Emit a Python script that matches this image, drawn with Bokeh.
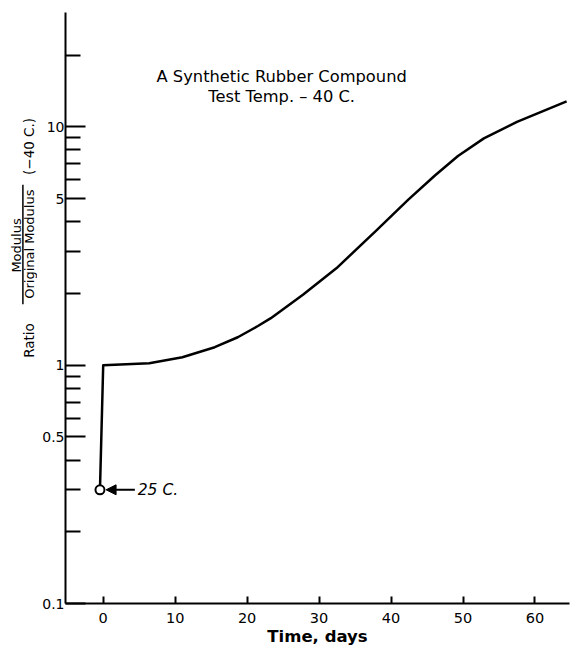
import math
from bokeh.plotting import figure
from bokeh.layouts import row
from bokeh.models import FixedTicker, Label, Arrow, NormalHead, Range1d
from bokeh.embed import file_html
from bokeh.resources import INLINE

# ---- data ----
days = [-0.45, 0, 6.4, 11.0, 15.5, 18.7, 21.5, 23.3, 27.8, 32.4, 37.9, 42.4, 46.1, 49.3,
        52.9, 57.5, 64.4]
ratio = [0.30, 1.00, 1.02, 1.08, 1.19, 1.31, 1.46, 1.575, 1.98, 2.55, 3.66, 4.95, 6.25, 7.55,
         8.95, 10.50, 12.79]

x_ticks = [0, 10, 20, 30, 40, 50, 60]
y_major = [0.1, 0.5, 1, 5, 10]
y_major_labels = ["0.1", "0.5", "1", "5", "10"]
y_minor = [0.2, 0.3, 0.4, 0.6, 0.7, 0.8, 0.9, 2, 3, 4, 6, 7, 8, 9, 20]

title_1 = "A Synthetic Rubber Compound"
title_2 = "Test Temp. \u2013 40 C."
point_note = "25 C."
x_title = "Time, days"
y_title_word = "Ratio"
y_title_num = "Modulus"
y_title_den = "Original Modulus"
y_title_cond = "(\u221240 C.)"

FONT = "DejaVu Sans"
TOP, BOTTOM = 12, 45
LEFT_W = 37

yr = Range1d(0.1, 30.2)

# ---- main chart ----
p = figure(width=570 - LEFT_W, height=648, output_backend="svg", toolbar_location=None,
           y_axis_type="log", x_range=Range1d(-5.24, 64.8), y_range=yr,
           min_border_left=65 - LEFT_W, min_border_right=1,
           min_border_top=TOP, min_border_bottom=BOTTOM)
p.outline_line_color = None
p.grid.visible = False

xa = p.xaxis[0]
xa.ticker = FixedTicker(ticks=x_ticks, minor_ticks=[])
xa.axis_line_width = 2
xa.major_tick_in = 7
xa.major_tick_out = 0
xa.major_tick_line_width = 2
xa.major_label_standoff = 9
xa.major_label_text_font = FONT
xa.major_label_text_font_size = "14.5px"
xa.major_label_text_color = "black"
xa.axis_label = x_title
xa.axis_label_text_font = FONT
xa.axis_label_text_font_style = "bold"
xa.axis_label_text_font_size = "16.5px"
xa.axis_label_standoff = 1
xa.axis_label_text_color = "black"

ya = p.yaxis[0]
ya.ticker = FixedTicker(ticks=y_major, minor_ticks=y_minor)
ya.major_label_overrides = {v: s for v, s in zip(y_major, y_major_labels)}
ya.axis_line_width = 2
ya.major_tick_in = 20
ya.major_tick_out = 0
ya.minor_tick_in = 15
ya.minor_tick_out = 0
ya.major_tick_line_width = 2
ya.minor_tick_line_width = 2
ya.major_label_standoff = 1
ya.major_label_text_font = FONT
ya.major_label_text_font_size = "14px"
ya.major_label_text_color = "black"

p.line(days, ratio, line_color="black", line_width=2.5, line_join="round")
p.scatter([days[0]], [ratio[0]], marker="circle", size=9, fill_color="white",
          line_color="black", line_width=2)

p.add_layout(Arrow(end=NormalHead(size=10, fill_color="black", line_color="black", line_width=1),
                   x_start=4.4, y_start=ratio[0], x_end=days[0] + 0.85, y_end=ratio[0],
                   line_color="black", line_width=2))
p.add_layout(Label(x=4.8, y=ratio[0], text=point_note, text_font=FONT, text_font_style="italic",
                   text_font_size="15.5px", text_align="left", text_baseline="middle",
                   text_color="black"))

p.add_layout(Label(x=24.8, y=16.25, text=title_1, text_font=FONT, text_font_size="16.3px",
                   text_align="center", text_baseline="middle", text_color="black"))
p.add_layout(Label(x=24.8, y=13.44, text=title_2, text_font=FONT, text_font_size="16.3px",
                   text_align="center", text_baseline="middle", text_color="black"))

# ---- left strip holding the rotated y title ----
lp = figure(width=LEFT_W, height=648, output_backend="svg", toolbar_location=None,
            y_axis_type="log", x_range=Range1d(0, LEFT_W), y_range=yr,
            x_axis_location=None, y_axis_location=None,
            min_border_left=0, min_border_right=0, min_border_top=TOP, min_border_bottom=BOTTOM)
lp.outline_line_color = None
lp.grid.visible = False

rot = math.pi / 2
for txt, xx, yy, fs in [(y_title_word, 28.3, 1.27, "13.5px"),
                        (y_title_num, 16.0, 3.18, "13px"),
                        (y_title_den, 28.8, 3.22, "13px"),
                        (y_title_cond, 28.3, 8.28, "13.5px")]:
    lp.add_layout(Label(x=xx, y=yy, text=txt, angle=rot, text_font=FONT, text_font_size=fs,
                        text_align="center", text_baseline="middle", text_color="black"))
lp.segment(x0=[22.4], y0=[1.80], x1=[22.4], y1=[5.72], line_color="black", line_width=1.5)

layout = row(lp, p)
open("out.html", "w").write(file_html(layout, INLINE))
